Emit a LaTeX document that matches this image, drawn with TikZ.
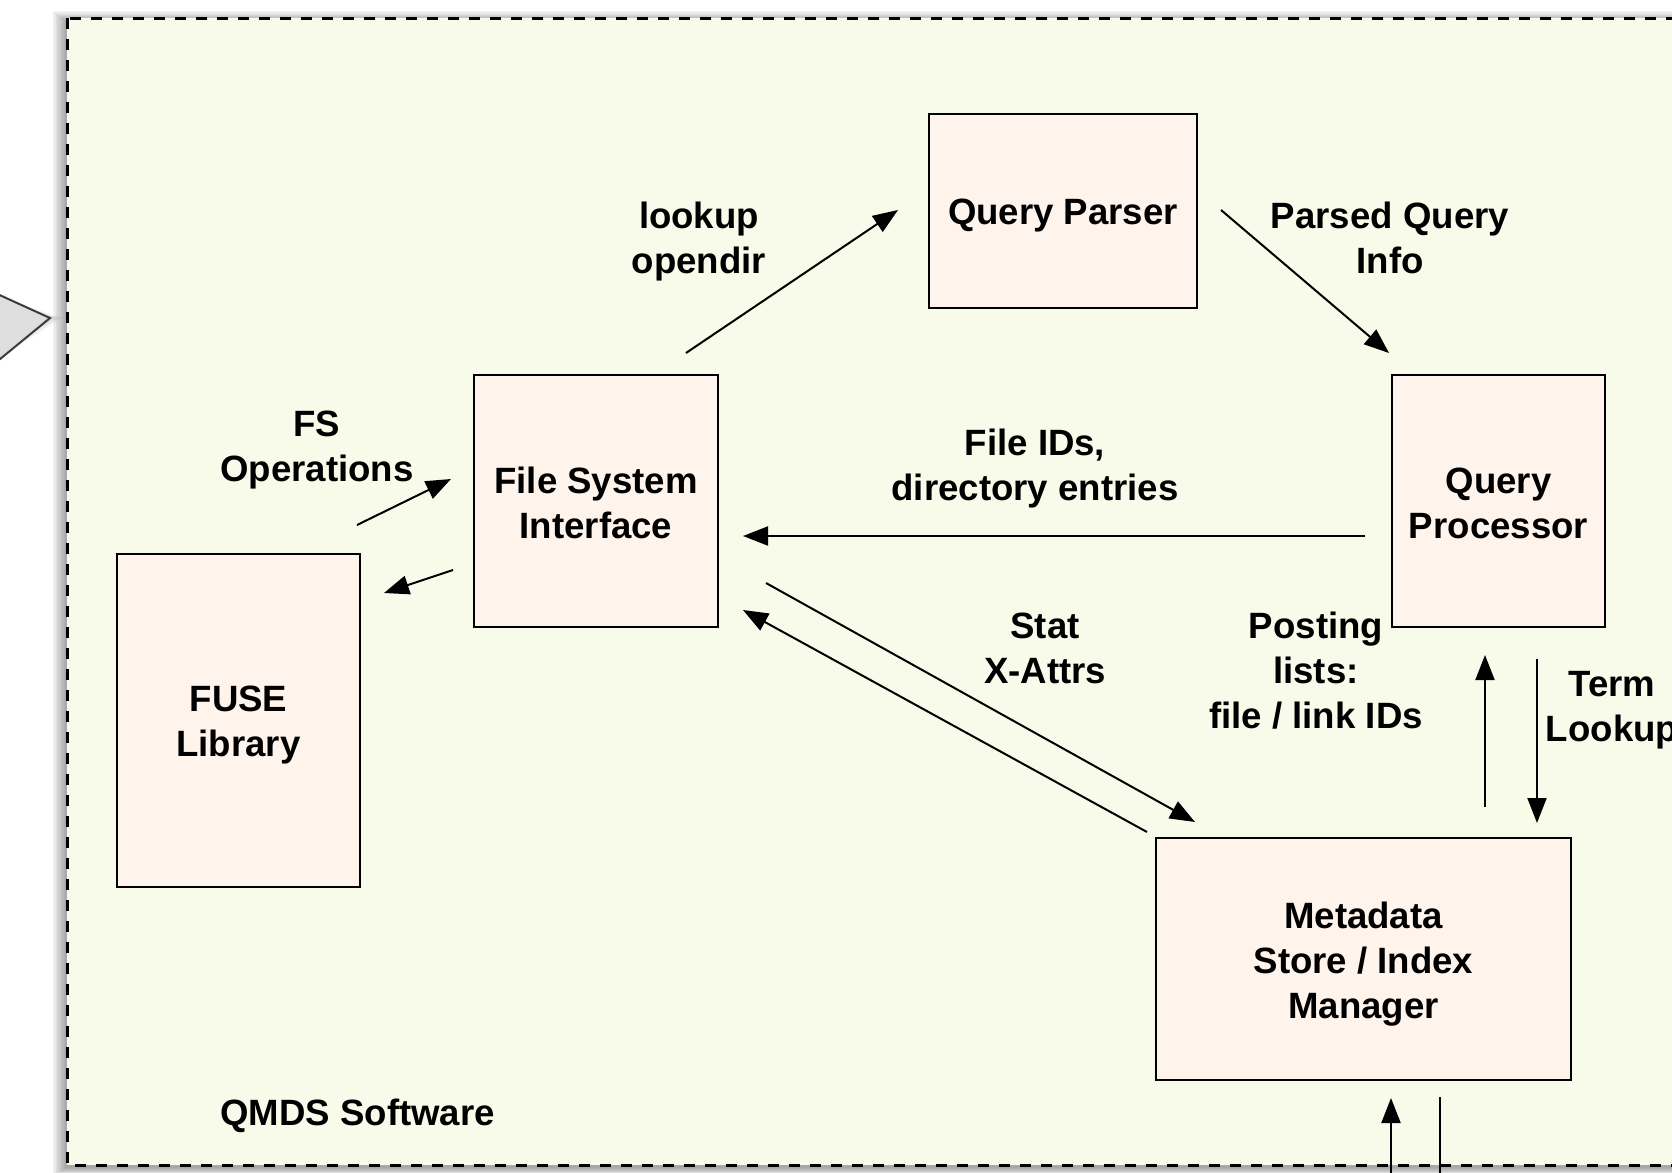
\documentclass[tikz,border=0pt]{standalone}
\usepackage{fontspec}
\setmainfont{Liberation Sans}
\usetikzlibrary{arrows.meta,calc}
\definecolor{panelfill}{HTML}{F9FBEA}
\definecolor{boxfill}{HTML}{FEF4EC}
\definecolor{chevfill}{HTML}{DEDEDE}
\definecolor{chevline}{HTML}{3C3C3C}

\begin{document}
\begin{tikzpicture}[x=0.5pt,y=-0.5pt,
  box/.style={draw=black, line width=1.1pt, fill=boxfill, inner sep=0pt},
  lbl/.style={font=\bfseries\fontsize{18.3}{22.5}\selectfont, align=center,
              inner sep=0pt, yshift=-2.5pt},
  conn/.style={line width=1pt, -{Triangle[length=12.5pt,width=9.5pt]}},
  panel/.style={draw=black, line width=1.5pt, dash pattern=on 5.5pt off 5pt, fill=panelfill}]
\useasboundingbox (0,0) rectangle (1672,1173);
\begin{scope}
  \clip (0,0) rectangle (1672,1173);
  \fill[white] (0,0) rectangle (1672,1173);

  % soft shadow behind the chevron at the left edge
  \foreach \i in {1,...,6}
    \fill[black, opacity=0.03] (-40,295-\i*2) -- (50+\i*2,318) -- (-40,367+\i*3) -- cycle;
  \filldraw[fill=chevfill, draw=chevline, line width=1pt]
    (-40,277) -- (50,318) -- (-40,392) -- cycle;

  % soft shadow of the software panel
  \foreach \i in {1,...,9}
    \fill[black, opacity=0.045] (67-\i*1.6,18-\i*1.2+4) rectangle (1720,1165+\i*0.9+2);

  % the software panel
  \draw[panel] (67,18) rectangle (1720,1165);

  % components
  \node[box, minimum width=134pt, minimum height=97pt]    (qparse) at (1063,211)    {};
  \node[box, minimum width=122pt, minimum height=126pt]   (fsi)    at (596,501)     {};
  \node[box, minimum width=106.5pt, minimum height=126pt] (qproc)  at (1498.5,501)  {};
  \node[box, minimum width=121.5pt, minimum height=166.5pt] (fuse) at (238.5,720.5) {};
  \node[box, minimum width=207.5pt, minimum height=121pt] (meta)   at (1363.5,959)  {};

  % component names
  \node[lbl] (qparseT) at (qparse)             {Query Parser};
  \node[lbl] (fsiT)    at ($(fsi)+(0,-3)$)     {File System\\Interface};
  \node[lbl] (qprocT)  at ($(qproc)+(0,-3)$)   {Query\\Processor};
  \node[lbl] (fuseT)   at (fuse)               {FUSE\\Library};
  \node[lbl] (metaT)   at (meta)               {Metadata\\Store / Index\\Manager};

  % connector end points
  \coordinate (fsiUp)     at (686,353);
  \coordinate (qpIn)      at (898,210);
  \coordinate (qpOut)     at (1221,210);
  \coordinate (qprIn)     at (1389,353);
  \coordinate (qprOut)    at (1365,536);
  \coordinate (fsiIn)     at (743,536);
  \coordinate (fuseOut)   at (357,525);
  \coordinate (fsiOpsIn)  at (451,479);
  \coordinate (fsiOut)    at (453,570);
  \coordinate (fuseIn)    at (384,593);
  \coordinate (fsiMeta)   at (766,583);
  \coordinate (metaIn)    at (1195,822);
  \coordinate (metaOut)   at (1147,832);
  \coordinate (fsiBack)   at (743,610);
  \coordinate (metaUp)    at (1485,807);
  \coordinate (qprDownIn) at (1485,655);
  \coordinate (qprDown)   at (1537,659);
  \coordinate (metaTop)   at (1537,823);
  \coordinate (extIn)     at (1391,1200);
  \coordinate (metaBotIn) at (1391,1098);
  \coordinate (metaBot)   at (1440,1097);
  \coordinate (extOut)    at (1440,1215);

  % connectors
  \draw[conn] (fsiUp) -- (qpIn);
  \draw[conn] (qpOut) -- (qprIn);
  \draw[conn] (qprOut) -- (fsiIn);
  \draw[conn] (fuseOut) -- (fsiOpsIn);
  \draw[conn] (fsiOut) -- (fuseIn);
  \draw[conn] (fsiMeta) -- (metaIn);
  \draw[conn] (metaOut) -- (fsiBack);
  \draw[conn] (metaUp) -- (qprDownIn);
  \draw[conn] (qprDown) -- (metaTop);
  \draw[conn] (extIn) -- (metaBotIn);
  \draw[conn] (metaBot) -- (extOut);

  % connector labels
  \node[lbl] (lLookup) at (699,237)  {lookup\\opendir};
  \node[lbl] (lParsed) at (1390,233) {Parsed Query\\Info};
  \node[lbl] (lFsOps)  at (317,445)  {FS\\Operations};
  \node[lbl] (lIds)    at (1035,464) {File IDs,\\directory entries};
  \node[lbl] (lStat)   at (1045,643) {Stat\\X-Attrs};
  \node[lbl] (lPost)   at (1316,666) {Posting\\lists:\\file / link IDs};
  \node[lbl] (lTerm)   at (1612,705) {Term\\Lookup};
  \node[lbl, anchor=west] (lQmds) at (220,1111) {QMDS Software};
\end{scope}
\end{tikzpicture}
\end{document}
